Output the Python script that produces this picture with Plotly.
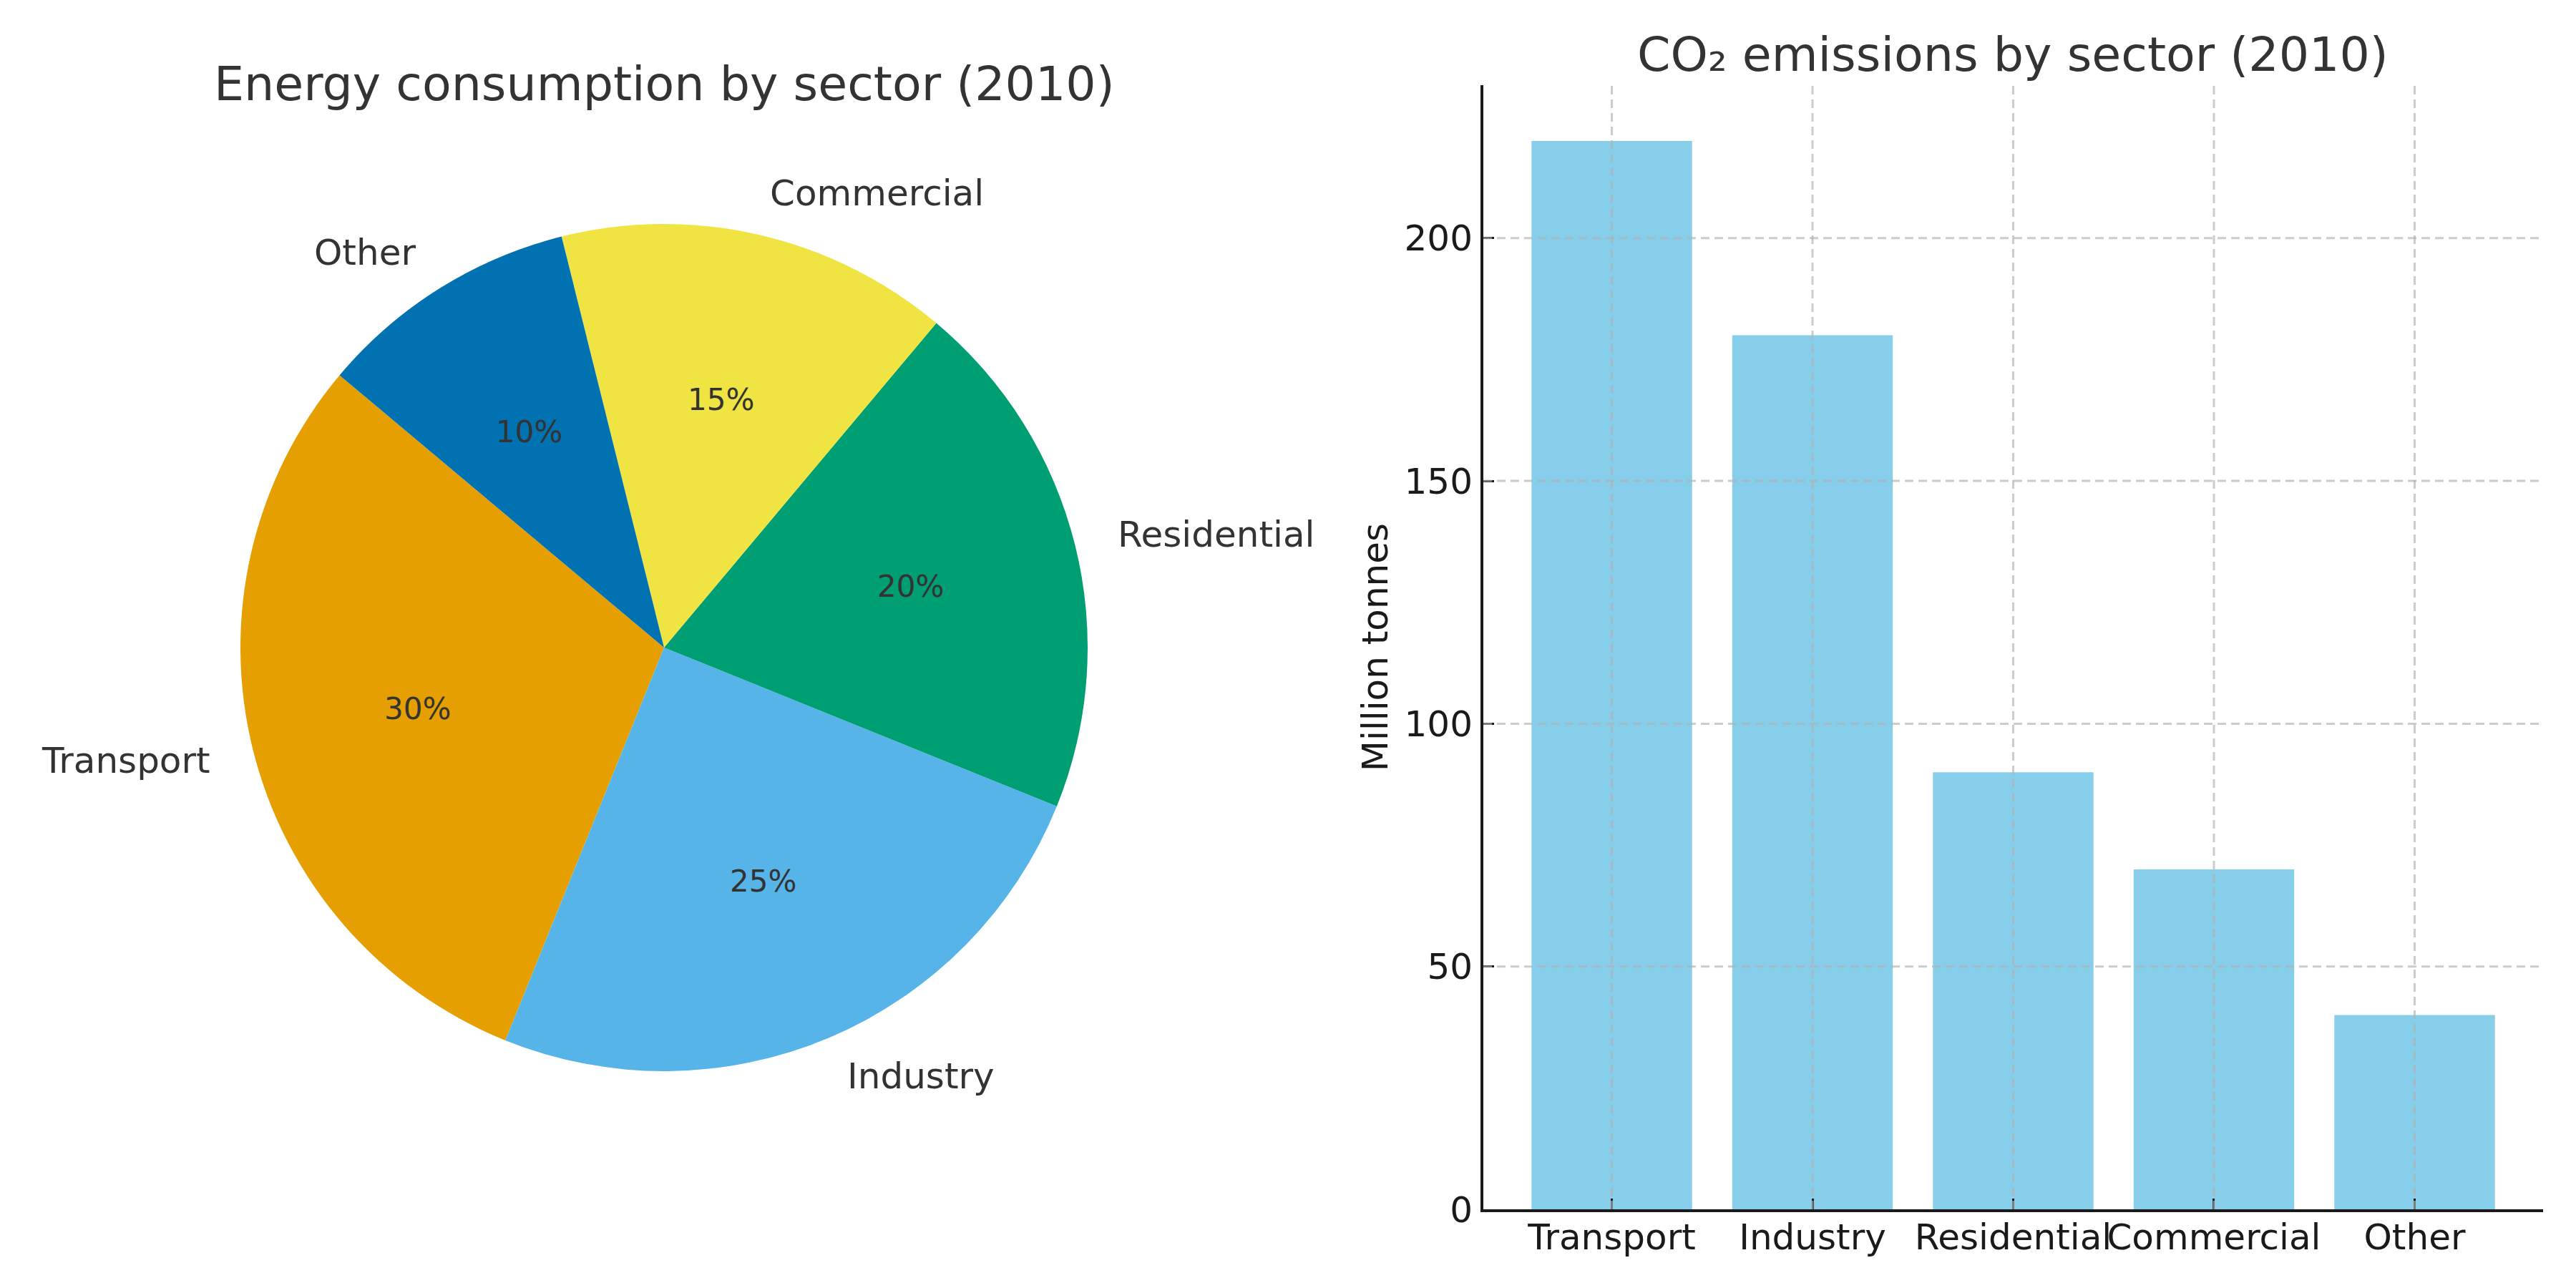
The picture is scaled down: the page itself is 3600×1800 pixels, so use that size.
import math
import plotly.graph_objects as go

# ---- data ----
pie_labels = ["Transport", "Industry", "Residential", "Commercial", "Other"]
pie_values = [30, 25, 20, 15, 10]
pie_colors = ["#E69F00", "#56B4E9", "#009E73", "#F0E442", "#0072B2"]

bar_categories = ["Transport", "Industry", "Residential", "Commercial", "Other"]
bar_values = [220, 180, 90, 70, 40]
y_ticks = [0, 50, 100, 150, 200]

pie_title = "Energy consumption by sector (2010)"
bar_title = "CO₂ emissions by sector (2010)"
y_label = "Million tonnes"

W, H = 3600, 1800
FONT = "DejaVu Sans"
TXT = "#333333"
TICK = "#1a1a1a"

# pie geometry (pixels)
cx, cy, R = 928, 905, 592
start_deg = 140  # matplotlib-style start angle (counterclockwise from 3 o'clock)

fig = go.Figure()

fig.add_trace(go.Pie(
    labels=pie_labels, values=pie_values, sort=False,
    direction="counterclockwise", rotation=-(start_deg + 360 * pie_values[0] / sum(pie_values) - 90),
    marker=dict(colors=pie_colors, line=dict(width=0)),
    textinfo="none", hoverinfo="label+percent", showlegend=False,
    domain=dict(x=[(cx - R) / W, (cx + R) / W], y=[1 - (cy + R) / H, 1 - (cy - R) / H]),
))

annotations = []
total = sum(pie_values)
acc = 0
for lab, v in zip(pie_labels, pie_values):
    mid = math.radians(start_deg + 360 * (acc + v / 2) / total)
    acc += v
    px = cx + 0.6 * R * math.cos(mid)
    py = cy - 0.6 * R * math.sin(mid)
    annotations.append(dict(x=px / W, y=1 - py / H, xref="paper", yref="paper",
                            text=f"{round(100 * v / total)}%", showarrow=False,
                            font=dict(family=FONT, size=42, color=TXT),
                            xanchor="center", yanchor="middle"))
    lx = cx + 1.1 * R * math.cos(mid)
    ly = cy - 1.1 * R * math.sin(mid)
    annotations.append(dict(x=lx / W, y=1 - ly / H, xref="paper", yref="paper",
                            text=lab, showarrow=False,
                            font=dict(family=FONT, size=50, color=TXT),
                            xanchor="right" if math.cos(mid) < 0 else "left",
                            yanchor="middle"))

annotations.append(dict(x=cx / W, y=1 - 117 / H, xref="paper", yref="paper",
                        text=pie_title, showarrow=False,
                        font=dict(family=FONT, size=66.6, color=TXT),
                        xanchor="center", yanchor="middle"))

fig.add_trace(go.Bar(
    x=bar_categories, y=bar_values, width=0.8,
    marker=dict(color="#87CEEB", line=dict(width=0)),
    showlegend=False, xaxis="x", yaxis="y",
))

x0, x1 = 2073, 3554
y0, y1 = 1690, 119
annotations.append(dict(x=2813 / W, y=1 - 76 / H, xref="paper", yref="paper",
                        text=bar_title, showarrow=False,
                        font=dict(family=FONT, size=66.6, color=TXT),
                        xanchor="center", yanchor="middle"))

# grid drawn above the bars (as in the reference)
grid_col = "rgba(176,176,176,0.65)"
shapes = []
for t in y_ticks[1:]:
    shapes.append(dict(type="line", xref="x domain", yref="y", x0=0, x1=1, y0=t, y1=t,
                       line=dict(color=grid_col, width=3, dash="12px,7px"), layer="above"))
for i in range(len(bar_categories)):
    shapes.append(dict(type="line", xref="x", yref="y domain", x0=i, x1=i, y0=0, y1=1,
                       line=dict(color=grid_col, width=3, dash="12px,7px"), layer="above"))

fig.update_layout(
    width=W, height=H,
    margin=dict(l=0, r=0, t=0, b=0, autoexpand=False),
    paper_bgcolor="white", plot_bgcolor="white",
    font=dict(family=FONT, color=TICK),
    annotations=annotations,
    shapes=shapes,
    xaxis=dict(domain=[x0 / W, x1 / W], anchor="y", range=[-0.64, 4.64], automargin=False,
               showline=True, linecolor="#1a1a1a", linewidth=4,
               ticks="inside", ticklen=15, tickwidth=3, tickcolor="#1a1a1a",
               tickfont=dict(family=FONT, size=50, color=TICK), tickangle=0,
               showgrid=False, zeroline=False, ticklabelstandoff=-8),
    yaxis=dict(domain=[1 - y0 / H, 1 - y1 / H], anchor="x", range=[0, 231.5], automargin=False,
               tickvals=y_ticks, ticktext=[str(t) for t in y_ticks],
               showline=True, linecolor="#1a1a1a", linewidth=4,
               ticks="inside", ticklen=15, tickwidth=3, tickcolor="#1a1a1a",
               tickfont=dict(family=FONT, size=50, color=TICK),
               showgrid=False, zeroline=False, ticklabelstandoff=1,
               title=dict(text=y_label, font=dict(family=FONT, size=50, color=TICK), standoff=8)),
)

fig.write_html("out.html")
